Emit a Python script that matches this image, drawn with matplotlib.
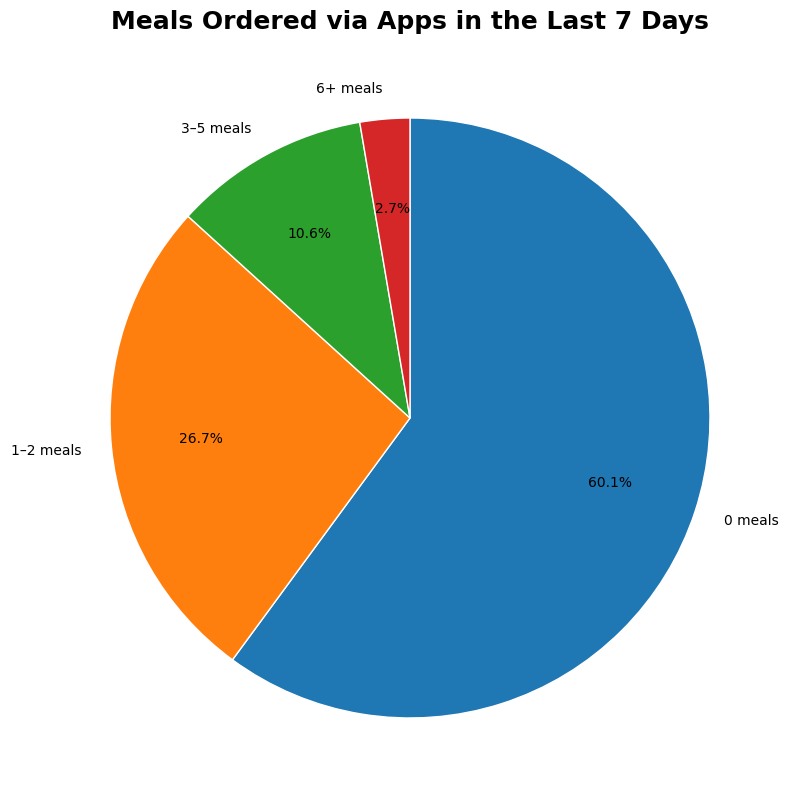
import matplotlib
matplotlib.use("Agg")
import matplotlib.pyplot as plt

categories = ["0 meals", "1\u20132 meals", "3\u20135 meals", "6+ meals"]
shares = [60.08, 26.66, 10.58, 2.68]
colors = ["#1f77b4", "#ff7f0e", "#2ca02c", "#d62728"]

fig = plt.figure(figsize=(7.88, 7.9), dpi=100)
ax = fig.add_axes([0.1015, 0.0532, 0.8376, 0.8354])
ax.pie(
    shares,
    labels=categories,
    colors=colors,
    autopct="%1.1f%%",
    pctdistance=0.7,
    startangle=90,
    counterclock=False,
    wedgeprops={"edgecolor": "white", "linewidth": 1},
)
ax.set_xlim(-1.1, 1.1)
ax.set_ylim(-1.1, 1.1)
ax.set_aspect("equal")
fig.suptitle("Meals Ordered via Apps in the Last 7 Days", fontsize=18,
             fontweight="bold", x=410 / 788, y=1 - 22 / 790, va="center")
plt.savefig("out.png", dpi=100)
plt.close()
